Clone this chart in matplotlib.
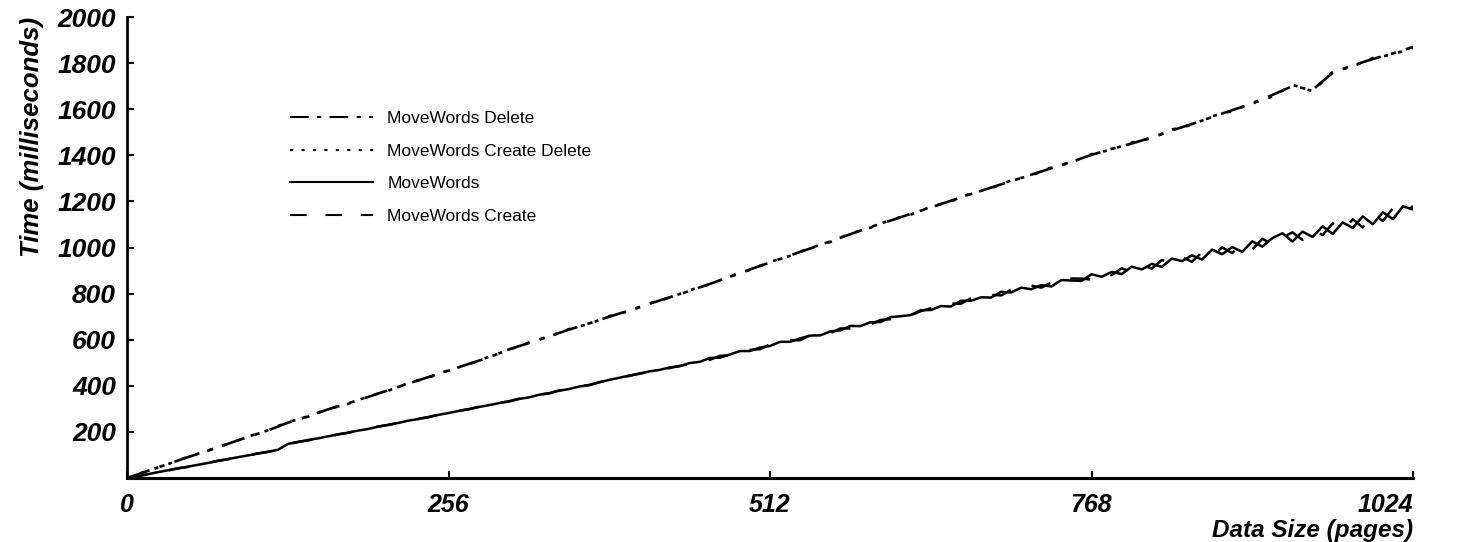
import matplotlib
matplotlib.use('Agg')
import matplotlib.pyplot as plt

#------------------------------------------------------------------------------
# data

pages_coarse = list(range(0, 1025, 16))
pages_fine = list(range(0, 1025, 8))

movewords_delete = [
    0, 30, 60, 90, 118, 148, 178, 206, 240, 268, 298, 324, 352, 381, 410,
    438, 466, 495, 523, 558, 586, 615, 644, 671, 700, 727, 756, 784, 812,
    842, 873, 905, 935, 966, 996, 1027, 1058, 1089, 1117, 1146, 1174, 1203,
    1232, 1260, 1288, 1316, 1344, 1372, 1402, 1428, 1451, 1478, 1508, 1536,
    1566, 1596, 1624, 1662, 1700, 1684, 1758, 1790, 1818, 1842, 1870,
]

movewords_create_delete = [
    0, 31, 59, 91, 119, 147, 179, 207, 243, 266, 300, 322, 354, 379, 412,
    436, 468, 493, 526, 556, 588, 613, 646, 669, 702, 725, 758, 782, 815,
    840, 876, 903, 938, 964, 999, 1024, 1061, 1086, 1120, 1143, 1177, 1200,
    1235, 1257, 1291, 1313, 1347, 1369, 1405, 1425, 1455, 1474, 1512, 1532,
    1570, 1592, 1628, 1655, 1706, 1678, 1762, 1786, 1822, 1838, 1866,
]

movewords = [
    0, 8, 16, 25, 33, 41, 49, 57, 65, 74, 82, 90, 98, 106, 114, 122,
    148, 156, 165, 172, 181, 189, 197, 206, 213, 223, 231, 239, 249, 256,
    265, 274, 282, 291, 299, 308, 316, 325, 333, 343, 350, 361, 368, 379,
    386, 397, 404, 415, 426, 435, 445, 452, 463, 469, 480, 485,
    499, 504, 521, 522, 536, 551, 551, 566, 573, 591, 591, 606, 618, 619,
    636, 641, 660, 659, 676, 677, 698, 702, 707, 728, 729, 746, 744, 769,
    769, 784, 783, 808, 805, 826, 819, 837, 831, 859, 857, 855, 884, 873,
    894, 885, 917, 905, 929, 916, 952, 941, 966, 948, 991, 971, 1002, 981,
    1027, 1004, 1041, 1062, 1026, 1069, 1046, 1092, 1059, 1109, 1085, 1135,
    1101, 1153, 1123, 1179, 1165,
]

movewords_create = [
    0, 9, 15, 26, 32, 42, 48, 58, 64, 75, 81, 91, 97, 107, 113, 123,
    147, 157, 163, 173, 180, 190, 196, 207, 213, 224, 230, 240, 247, 257,
    264, 275, 281, 292, 298, 309, 315, 326, 332, 344, 349, 362, 367, 380,
    385, 398, 403, 416, 424, 437, 443, 454, 460, 471, 477, 487,
    494, 510, 513, 530, 533, 548, 556, 559, 580, 582, 598, 598, 620, 622,
    629, 649, 649, 667, 666, 686, 689, 709, 706, 724, 737, 734, 757, 756,
    780, 774, 795, 792, 817, 810, 835, 826, 848, 837, 866, 865, 861, 891,
    880, 910, 894, 923, 909, 946, 930, 959, 938, 980, 961, 1001, 976, 1017,
    991, 1038, 1015, 1044, 1066, 1033, 1080, 1054, 1105, 1071, 1123, 1087,
    1147, 1115, 1171, 1137, 1181,
]

x_ticks = [0, 256, 512, 768, 1024]
y_ticks = [200, 400, 600, 800, 1000, 1200, 1400, 1600, 1800, 2000]


def main():

    plt.rcParams['font.family'] = ['Liberation Sans', 'DejaVu Sans']

    fig = plt.figure(figsize=(14.69, 5.42), dpi=100)
    ax = fig.add_axes([0.0865, 0.118, 0.8754, 0.8506])

    #--------------------------------------------------------------------------
    # curves

    ax.plot(pages_coarse, movewords_delete, color='black', lw=1.9,
            linestyle=(0, (9, 4, 2, 4)), label='MoveWords Delete')
    ax.plot(pages_coarse, movewords_create_delete, color='black', lw=1.9,
            linestyle=(0, (1.5, 4)), label='MoveWords Create Delete')
    ax.plot(pages_fine, movewords, color='black', lw=1.8,
            linestyle='-', label='MoveWords')
    ax.plot(pages_fine, movewords_create, color='black', lw=1.8,
            linestyle=(0, (8, 9)), label='MoveWords Create')

    #--------------------------------------------------------------------------
    # axes

    ax.set_xlim(0, 1024)
    ax.set_ylim(0, 2000)

    for side in ('top', 'right'):
        ax.spines[side].set_visible(False)
    ax.spines['left'].set_linewidth(2.0)
    ax.spines['bottom'].set_linewidth(2.2)

    ax.set_xticks(x_ticks)
    ax.set_xticklabels([str(v) for v in x_ticks])
    ax.set_yticks(y_ticks)
    ax.set_yticklabels([str(v) for v in y_ticks])

    for lab in ax.get_xticklabels() + ax.get_yticklabels():
        lab.set_fontsize(19)
        lab.set_fontweight('bold')
        lab.set_fontstyle('italic')
    for lab in ax.get_xticklabels():
        lab.set_fontsize(18)

    # last x label ends at its tick in the original
    ax.get_xticklabels()[-1].set_horizontalalignment('right')

    ax.tick_params(axis='x', direction='in', length=5, width=1.5, pad=11)
    ax.tick_params(axis='y', direction='in', length=5, width=1.5, pad=8)

    # x label sits just under the 1024 tick label, right aligned
    fig.text(1413 / 1469, 1 - 530 / 542, 'Data Size (pages)',
             ha='right', va='center', fontsize=17.5, fontweight='bold',
             fontstyle='italic')
    ax.set_ylabel('Time (milliseconds)', loc='top', labelpad=10,
                  fontsize=18.5, fontweight='bold', fontstyle='italic')

    #--------------------------------------------------------------------------
    # legend

    leg = ax.legend(loc='upper left',
                    bbox_to_anchor=(290 / 1469, 1 - 111 / 542),
                    bbox_transform=fig.transFigure,
                    frameon=False, fontsize=12.5, handlelength=4.8,
                    handletextpad=0.8, labelspacing=1.0, borderpad=0,
                    borderaxespad=0)
    for line in leg.get_lines():
        line.set_linewidth(1.5)

    fig.savefig('out.png', dpi=100)


if __name__ == "__main__":
    main()
